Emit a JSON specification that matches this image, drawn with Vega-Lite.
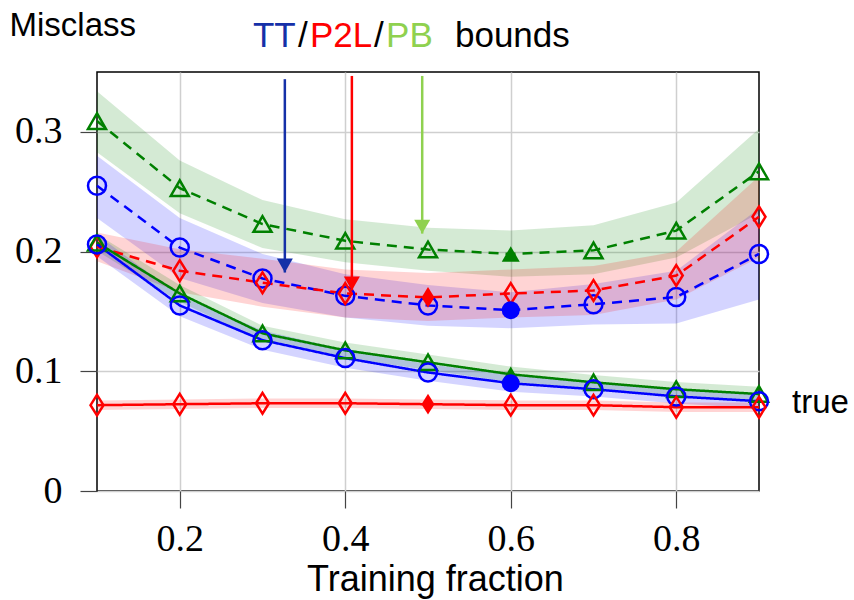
{
  "$schema": "https://vega.github.io/schema/vega-lite/v6.json",
  "width": 662,
  "height": 419,
  "autosize": "none",
  "padding": {"left": 97, "top": 72, "right": 95, "bottom": 109},
  "background": "white",
  "config": {
    "view": {"stroke": "black", "strokeWidth": 1.5},
    "font": "Liberation Sans"
  },
  "datasets": {
    "series": [
      {"method": "PB", "kind": "bound", "x": 0.1, "y": 0.309, "lo": 0.283, "hi": 0.334, "filled": false},
      {"method": "PB", "kind": "bound", "x": 0.2, "y": 0.253, "lo": 0.232, "hi": 0.276, "filled": false},
      {"method": "PB", "kind": "bound", "x": 0.3, "y": 0.223, "lo": 0.203, "hi": 0.243, "filled": false},
      {"method": "PB", "kind": "bound", "x": 0.4, "y": 0.209, "lo": 0.191, "hi": 0.227, "filled": false},
      {"method": "PB", "kind": "bound", "x": 0.5, "y": 0.2017, "lo": 0.184, "hi": 0.22, "filled": false},
      {"method": "PB", "kind": "bound", "x": 0.6, "y": 0.198, "lo": 0.179, "hi": 0.2175, "filled": true},
      {"method": "PB", "kind": "bound", "x": 0.7, "y": 0.201, "lo": 0.181, "hi": 0.222, "filled": false},
      {"method": "PB", "kind": "bound", "x": 0.8, "y": 0.2175, "lo": 0.195, "hi": 0.241, "filled": false},
      {"method": "PB", "kind": "bound", "x": 0.9, "y": 0.267, "lo": 0.232, "hi": 0.3025, "filled": false},

      {"method": "TT", "kind": "bound", "x": 0.1, "y": 0.255, "lo": 0.228, "hi": 0.28, "filled": false},
      {"method": "TT", "kind": "bound", "x": 0.2, "y": 0.2033, "lo": 0.178, "hi": 0.228, "filled": false},
      {"method": "TT", "kind": "bound", "x": 0.3, "y": 0.1775, "lo": 0.157, "hi": 0.198, "filled": false},
      {"method": "TT", "kind": "bound", "x": 0.4, "y": 0.163, "lo": 0.145, "hi": 0.181, "filled": false},
      {"method": "TT", "kind": "bound", "x": 0.5, "y": 0.155, "lo": 0.138, "hi": 0.172, "filled": false},
      {"method": "TT", "kind": "bound", "x": 0.6, "y": 0.151, "lo": 0.136, "hi": 0.166, "filled": true},
      {"method": "TT", "kind": "bound", "x": 0.7, "y": 0.156, "lo": 0.139, "hi": 0.173, "filled": false},
      {"method": "TT", "kind": "bound", "x": 0.8, "y": 0.162, "lo": 0.14, "hi": 0.184, "filled": false},
      {"method": "TT", "kind": "bound", "x": 0.9, "y": 0.198, "lo": 0.16, "hi": 0.236, "filled": false},

      {"method": "P2L", "kind": "bound", "x": 0.1, "y": 0.204, "lo": 0.192, "hi": 0.216, "filled": false},
      {"method": "P2L", "kind": "bound", "x": 0.2, "y": 0.184, "lo": 0.166, "hi": 0.202, "filled": false},
      {"method": "P2L", "kind": "bound", "x": 0.3, "y": 0.174, "lo": 0.154, "hi": 0.194, "filled": false},
      {"method": "P2L", "kind": "bound", "x": 0.4, "y": 0.165, "lo": 0.145, "hi": 0.185, "filled": false},
      {"method": "P2L", "kind": "bound", "x": 0.5, "y": 0.1617, "lo": 0.142, "hi": 0.182, "filled": true},
      {"method": "P2L", "kind": "bound", "x": 0.6, "y": 0.165, "lo": 0.145, "hi": 0.185, "filled": false},
      {"method": "P2L", "kind": "bound", "x": 0.7, "y": 0.1675, "lo": 0.147, "hi": 0.188, "filled": false},
      {"method": "P2L", "kind": "bound", "x": 0.8, "y": 0.18, "lo": 0.16, "hi": 0.2, "filled": false},
      {"method": "P2L", "kind": "bound", "x": 0.9, "y": 0.229, "lo": 0.195, "hi": 0.263, "filled": false},

      {"method": "PB", "kind": "true", "x": 0.1, "y": 0.2075, "lo": 0.2005, "hi": 0.2145, "filled": false},
      {"method": "PB", "kind": "true", "x": 0.2, "y": 0.165, "lo": 0.158, "hi": 0.172, "filled": false},
      {"method": "PB", "kind": "true", "x": 0.3, "y": 0.1317, "lo": 0.125, "hi": 0.138, "filled": false},
      {"method": "PB", "kind": "true", "x": 0.4, "y": 0.1175, "lo": 0.111, "hi": 0.124, "filled": false},
      {"method": "PB", "kind": "true", "x": 0.5, "y": 0.1075, "lo": 0.101, "hi": 0.114, "filled": false},
      {"method": "PB", "kind": "true", "x": 0.6, "y": 0.0975, "lo": 0.091, "hi": 0.104, "filled": true},
      {"method": "PB", "kind": "true", "x": 0.7, "y": 0.0908, "lo": 0.085, "hi": 0.097, "filled": false},
      {"method": "PB", "kind": "true", "x": 0.8, "y": 0.085, "lo": 0.079, "hi": 0.091, "filled": false},
      {"method": "PB", "kind": "true", "x": 0.9, "y": 0.081, "lo": 0.075, "hi": 0.087, "filled": false},

      {"method": "TT", "kind": "true", "x": 0.1, "y": 0.206, "lo": 0.196, "hi": 0.214, "filled": false},
      {"method": "TT", "kind": "true", "x": 0.2, "y": 0.155, "lo": 0.146, "hi": 0.163, "filled": false},
      {"method": "TT", "kind": "true", "x": 0.3, "y": 0.126, "lo": 0.118, "hi": 0.134, "filled": false},
      {"method": "TT", "kind": "true", "x": 0.4, "y": 0.111, "lo": 0.103, "hi": 0.118, "filled": false},
      {"method": "TT", "kind": "true", "x": 0.5, "y": 0.099, "lo": 0.092, "hi": 0.106, "filled": false},
      {"method": "TT", "kind": "true", "x": 0.6, "y": 0.09, "lo": 0.083, "hi": 0.097, "filled": true},
      {"method": "TT", "kind": "true", "x": 0.7, "y": 0.085, "lo": 0.079, "hi": 0.091, "filled": false},
      {"method": "TT", "kind": "true", "x": 0.8, "y": 0.079, "lo": 0.073, "hi": 0.085, "filled": false},
      {"method": "TT", "kind": "true", "x": 0.9, "y": 0.075, "lo": 0.069, "hi": 0.081, "filled": false},

      {"method": "P2L", "kind": "true", "x": 0.1, "y": 0.0717, "lo": 0.0677, "hi": 0.0757, "filled": false},
      {"method": "P2L", "kind": "true", "x": 0.2, "y": 0.0725, "lo": 0.0685, "hi": 0.0765, "filled": false},
      {"method": "P2L", "kind": "true", "x": 0.3, "y": 0.0733, "lo": 0.0693, "hi": 0.0773, "filled": false},
      {"method": "P2L", "kind": "true", "x": 0.4, "y": 0.0733, "lo": 0.0693, "hi": 0.0773, "filled": false},
      {"method": "P2L", "kind": "true", "x": 0.5, "y": 0.0725, "lo": 0.0685, "hi": 0.0765, "filled": true},
      {"method": "P2L", "kind": "true", "x": 0.6, "y": 0.0717, "lo": 0.0677, "hi": 0.0757, "filled": false},
      {"method": "P2L", "kind": "true", "x": 0.7, "y": 0.0717, "lo": 0.0677, "hi": 0.0757, "filled": false},
      {"method": "P2L", "kind": "true", "x": 0.8, "y": 0.07, "lo": 0.066, "hi": 0.074, "filled": false},
      {"method": "P2L", "kind": "true", "x": 0.9, "y": 0.07, "lo": 0.066, "hi": 0.074, "filled": false}
    ],
    "arrows": [
      {"part": "TT", "x": 0.327, "y": 0.344, "tip": 0.1825},
      {"part": "P2L", "x": 0.408, "y": 0.3467, "tip": 0.1675},
      {"part": "PB", "x": 0.493, "y": 0.3467, "tip": 0.215}
    ],
    "titleparts": [
      {"part": "TT", "text": "TT", "x": 0.2885, "y": 0.3708},
      {"part": "other", "text": "/", "x": 0.3429, "y": 0.3708},
      {"part": "P2L", "text": "P2L", "x": 0.3574, "y": 0.3708},
      {"part": "other", "text": "/", "x": 0.4348, "y": 0.3708},
      {"part": "PB", "text": "PB", "x": 0.4493, "y": 0.3708},
      {"part": "other", "text": "bounds", "x": 0.5326, "y": 0.3708}
    ],
    "endlabel": [
      {"text": "true", "x": 0.9, "y": 0.075}
    ]
  },
  "resolve": {"scale": {"color": "independent"}},
  "layer": [
    {
      "data": {"name": "series"},
      "mark": {"type": "area", "opacity": 0.17},
      "encoding": {
        "x": {
          "field": "x", "type": "quantitative",
          "scale": {"domain": [0.1, 0.9], "nice": false, "zero": false},
          "axis": {
            "values": [0.2, 0.4, 0.6, 0.8],
            "format": "~g",
            "domain": false,
            "grid": true, "gridColor": "#cfcfcf", "gridWidth": 1.5,
            "ticks": true, "tickSize": 17, "tickColor": "#444444", "tickWidth": 1.2,
            "labelFont": "Liberation Serif", "labelFontSize": 38, "labelColor": "black",
            "labelBaseline": "alphabetic", "labelPadding": 42,
            "title": "Training fraction",
            "titleFont": "Liberation Sans", "titleFontSize": 36, "titleFontWeight": "normal", "titleColor": "black",
            "titleX": 338, "titleY": 99, "titleAlign": "center", "titleBaseline": "alphabetic"
          }
        },
        "y": {
          "field": "lo", "type": "quantitative",
          "scale": {"domain": [0, 0.35], "nice": false, "zero": false},
          "axis": {
            "values": [0, 0.1, 0.2, 0.3],
            "format": "~g",
            "domain": false,
            "grid": true, "gridColor": "#cfcfcf", "gridWidth": 1.5,
            "ticks": true, "tickSize": 17, "tickColor": "#444444", "tickWidth": 1.2,
            "labelFont": "Liberation Serif", "labelFontSize": 38, "labelColor": "black",
            "labelBaseline": "middle", "labelPadding": 18,
            "title": "Misclass",
            "titleFont": "Liberation Sans", "titleFontSize": 33, "titleFontWeight": "normal", "titleColor": "black",
            "titleAngle": 0, "titleX": -88, "titleY": -37, "titleAlign": "left", "titleBaseline": "alphabetic"
          }
        },
        "y2": {"field": "hi"},
        "color": {"field": "method", "type": "nominal", "scale": {"domain": ["TT", "P2L", "PB"], "range": ["#0000ff", "#ff0000", "#008000"]}, "legend": null},
        "detail": {"field": "kind"}
      }
    },
    {
      "data": {"name": "series"},
      "mark": {"type": "line", "strokeWidth": 2.5},
      "encoding": {
        "x": {"field": "x", "type": "quantitative", "scale": {"domain": [0.1, 0.9], "nice": false, "zero": false}},
        "y": {"field": "y", "type": "quantitative", "scale": {"domain": [0, 0.35], "nice": false, "zero": false}},
        "color": {"field": "method", "type": "nominal", "scale": {"domain": ["TT", "P2L", "PB"], "range": ["#0000ff", "#ff0000", "#008000"]}, "legend": null},
        "strokeDash": {"field": "kind", "type": "nominal", "scale": {"domain": ["bound", "true"], "range": [[10, 7], [1, 0]]}, "legend": null},
        "detail": {"field": "kind"}
      }
    },
    {
      "data": {"name": "series"},
      "transform": [{"filter": "!datum.filled"}],
      "mark": {"type": "point", "filled": false, "strokeWidth": 2.5, "size": 324, "opacity": 1},
      "encoding": {
        "x": {"field": "x", "type": "quantitative", "scale": {"domain": [0.1, 0.9], "nice": false, "zero": false}},
        "y": {"field": "y", "type": "quantitative", "scale": {"domain": [0, 0.35], "nice": false, "zero": false}},
        "color": {"field": "method", "type": "nominal", "scale": {"domain": ["TT", "P2L", "PB"], "range": ["#0000ff", "#ff0000", "#008000"]}, "legend": null},
        "shape": {"field": "method", "type": "nominal", "scale": {"domain": ["TT", "P2L", "PB"], "range": ["circle", "M0,-1.15L0.72,0L0,1.15L-0.72,0Z", "triangle-up"]}, "legend": null}
      }
    },
    {
      "data": {"name": "series"},
      "transform": [{"filter": "datum.filled"}],
      "mark": {"type": "point", "filled": true, "size": 324, "opacity": 1},
      "encoding": {
        "x": {"field": "x", "type": "quantitative", "scale": {"domain": [0.1, 0.9], "nice": false, "zero": false}},
        "y": {"field": "y", "type": "quantitative", "scale": {"domain": [0, 0.35], "nice": false, "zero": false}},
        "color": {"field": "method", "type": "nominal", "scale": {"domain": ["TT", "P2L", "PB"], "range": ["#0000ff", "#ff0000", "#008000"]}, "legend": null},
        "shape": {"field": "method", "type": "nominal", "scale": {"domain": ["TT", "P2L", "PB"], "range": ["circle", "M0,-1.15L0.72,0L0,1.15L-0.72,0Z", "triangle-up"]}, "legend": null}
      }
    },
    {
      "data": {"name": "arrows"},
      "mark": {"type": "rule", "strokeWidth": 2.5},
      "encoding": {
        "x": {"field": "x", "type": "quantitative", "scale": {"domain": [0.1, 0.9], "nice": false, "zero": false}},
        "y": {"field": "y", "type": "quantitative", "scale": {"domain": [0, 0.35], "nice": false, "zero": false}},
        "y2": {"field": "tip"},
        "color": {"field": "part", "type": "nominal", "scale": {"domain": ["TT", "P2L", "PB", "other"], "range": ["#1530a8", "#ff0000", "#8fd14f", "#000000"]}, "legend": null}
      }
    },
    {
      "data": {"name": "arrows"},
      "mark": {"type": "point", "shape": "triangle-down", "filled": true, "size": 256, "opacity": 1, "yOffset": -7},
      "encoding": {
        "x": {"field": "x", "type": "quantitative", "scale": {"domain": [0.1, 0.9], "nice": false, "zero": false}},
        "y": {"field": "tip", "type": "quantitative", "scale": {"domain": [0, 0.35], "nice": false, "zero": false}},
        "color": {"field": "part", "type": "nominal", "scale": {"domain": ["TT", "P2L", "PB", "other"], "range": ["#1530a8", "#ff0000", "#8fd14f", "#000000"]}, "legend": null}
      }
    },
    {
      "data": {"name": "titleparts"},
      "mark": {"type": "text", "align": "left", "baseline": "alphabetic", "font": "Liberation Sans", "fontSize": 35},
      "encoding": {
        "x": {"field": "x", "type": "quantitative", "scale": {"domain": [0.1, 0.9], "nice": false, "zero": false}},
        "y": {"field": "y", "type": "quantitative", "scale": {"domain": [0, 0.35], "nice": false, "zero": false}},
        "text": {"field": "text"},
        "color": {"field": "part", "type": "nominal", "scale": {"domain": ["TT", "P2L", "PB", "other"], "range": ["#1530a8", "#ff0000", "#8fd14f", "#000000"]}, "legend": null}
      }
    },
    {
      "data": {"name": "endlabel"},
      "mark": {"type": "text", "align": "left", "baseline": "alphabetic", "font": "Liberation Sans", "fontSize": 33, "dx": 33, "dy": 12, "color": "black"},
      "encoding": {
        "x": {"field": "x", "type": "quantitative", "scale": {"domain": [0.1, 0.9], "nice": false, "zero": false}},
        "y": {"field": "y", "type": "quantitative", "scale": {"domain": [0, 0.35], "nice": false, "zero": false}},
        "text": {"field": "text"}
      }
    }
  ]
}
